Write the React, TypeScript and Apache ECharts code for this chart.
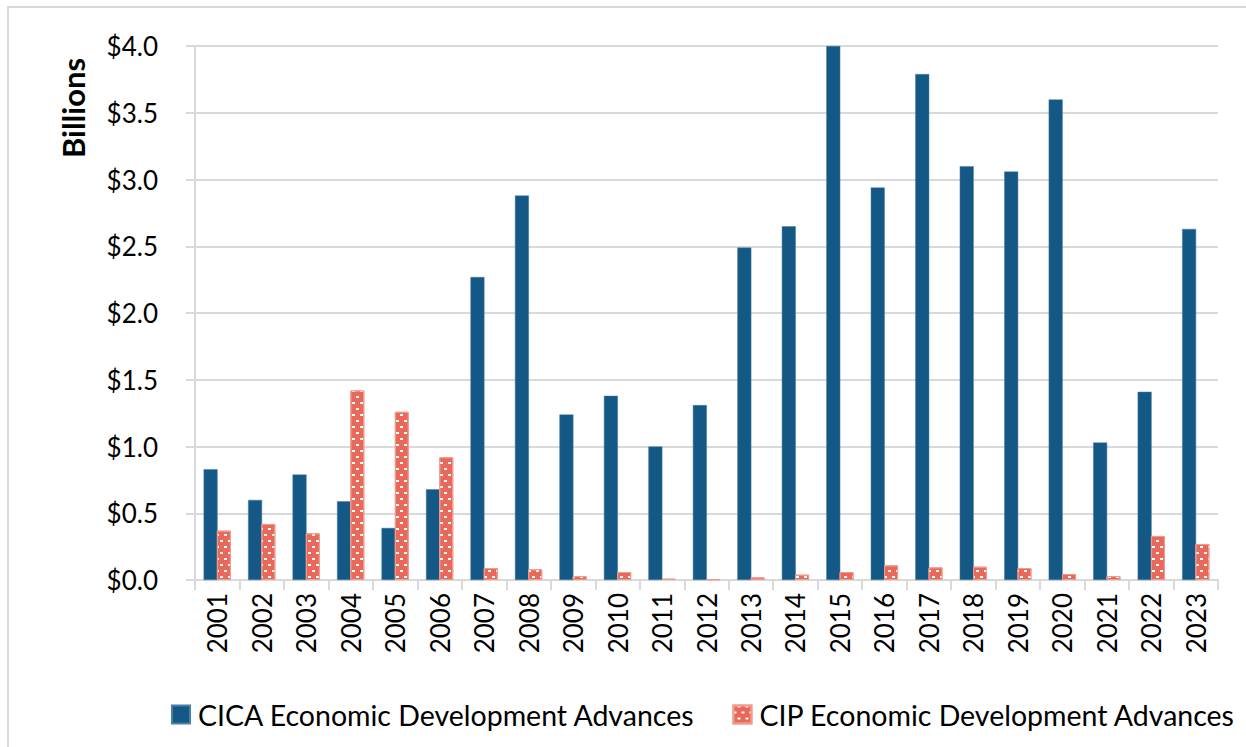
import React, { useEffect, useRef } from "react";
import * as echarts from "echarts";

const years = ["2001","2002","2003","2004","2005","2006","2007","2008","2009","2010","2011","2012","2013","2014","2015","2016","2017","2018","2019","2020","2021","2022","2023"];
const cicaValues = [0.83,0.60,0.79,0.59,0.39,0.68,2.27,2.88,1.24,1.38,1.00,1.31,2.49,2.65,4.00,2.94,3.79,3.10,3.06,3.60,1.03,1.41,2.63];
const cipValues = [0.37,0.42,0.35,1.42,1.26,0.92,0.09,0.08,0.03,0.06,0.01,0.005,0.02,0.04,0.06,0.11,0.095,0.10,0.09,0.045,0.03,0.33,0.27];
const seriesNames = ["CICA Economic Development Advances", "CIP Economic Development Advances"];
const yTitle = "Billions";

const FONT = "Lato";

export default function App() {
  const ref = useRef<HTMLDivElement>(null);
  useEffect(() => {
    document.body.style.margin = "0";
    const chart = echarts.init(ref.current!, null, { renderer: "svg" });
    chart.setOption({
      animation: false,
      textStyle: { fontFamily: FONT },
      grid: { left: 195, top: 46, width: 1023, height: 534, containLabel: false },
      graphic: [
        {
          type: "rect",
          shape: { x: 8, y: 7, width: 1300, height: 800 },
          style: { fill: "none", stroke: "#d9d9d9", lineWidth: 2 },
          silent: true,
        },
        {
          type: "text",
          x: 73,
          y: 108,
          rotation: Math.PI / 2,
          style: {
            text: yTitle,
            font: `bold 31px ${FONT}`,
            fill: "#000",
            textAlign: "center",
            textVerticalAlign: "middle",
          },
        },
      ],
      legend: {
        left: 171,
        top: 700,
        padding: 0,
        itemWidth: 18,
        itemHeight: 18,
        itemGap: 37,
        icon: "rect",
        textStyle: { fontFamily: FONT, fontSize: 28.5, color: "#000", padding: [0, 0, 0, 3] },
        data: seriesNames,
      },
      xAxis: {
        type: "category",
        data: years,
        axisLine: { show: true, lineStyle: { color: "#d9d9d9", width: 2 } },
        axisTick: { show: true, alignWithLabel: false, length: 10, lineStyle: { color: "#d9d9d9", width: 2 } },
        axisLabel: { rotate: 90, margin: 13, fontSize: 26, color: "#000", fontFamily: FONT, interval: 0 },
      },
      yAxis: {
        type: "value",
        min: 0,
        max: 4,
        interval: 0.5,
        axisLine: { show: true, lineStyle: { color: "#d9d9d9", width: 2 } },
        axisTick: { show: true, length: 9, lineStyle: { color: "#d9d9d9", width: 2 } },
        splitLine: { show: true, lineStyle: { color: "#d9d9d9", width: 2 } },
        axisLabel: {
          margin: 37,
          fontSize: 26,
          color: "#000",
          fontFamily: FONT,
          formatter: (v: number) => "$" + v.toFixed(1),
        },
      },
      series: [
        {
          name: seriesNames[0],
          type: "bar",
          data: cicaValues,
          barWidth: 14,
          barGap: "-5%",
          itemStyle: { color: "#145885", borderColor: "#4b7ea6", borderWidth: 0.5 },
        },
        {
          name: seriesNames[1],
          type: "bar",
          data: cipValues,
          barWidth: 14,
          itemStyle: {
            color: "#E8685A",
            borderColor: "#F09A8C",
            borderWidth: 1,
            decal: {
              symbol: "rect",
              symbolSize: 1,
              color: "#ffffff",
              dashArrayX: [[3, 5], [0, 4, 3, 1]],
              dashArrayY: [1.5, 3.5],
              rotation: 0,
            },
          },
        },
      ],
    });
    return () => chart.dispose();
  }, []);
  return <div ref={ref} style={{ width: 1246, height: 747 }} />;
}
